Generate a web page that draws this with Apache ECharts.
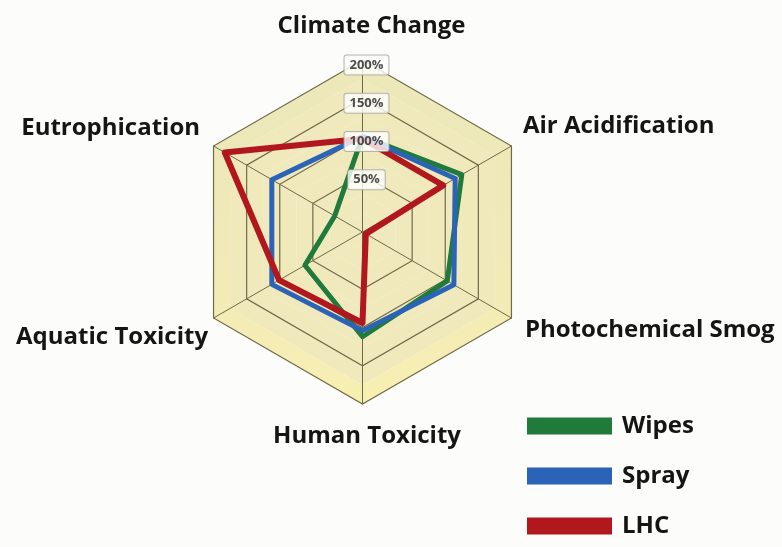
<!DOCTYPE html>
<html><head><meta charset="utf-8">
<script src="https://cdn.jsdelivr.net/npm/echarts@6/dist/echarts.min.js"></script>
<style>html,body{margin:0;padding:0;background:#fcfcfa;} #c{width:782px;height:547px;}</style>
</head><body><div id="c"></div>
<script>
// ---- data ----
const categories = ['Climate Change', 'Eutrophication', 'Aquatic Toxicity', 'Human Toxicity', 'Photochemical Smog', 'Air Acidification'];
const wipes = [100, 17, 62, 112, 103, 125];
const spray = [100, 112, 112, 104, 113, 115];
const lhc   = [97, 183, 101, 94, -20, 97];
const seriesNames = ['Wipes', 'Spray', 'LHC'];
const tickValues = [50, 100, 150, 200];
const tickLabels = ['50%', '100%', '150%', '200%'];
const axisMin = -25, axisMax = 200;

// ---- styles ----
const colors = ['#1f7a3b', '#2a63b8', '#b1181e'];
const FONT = 'Open Sans';
const NAME_SIZE = 24;
const namePads = [[0,0,18,18],[0,10,32,0],[34,2,0,0],[16,0,0,9],[20,0,0,10],[0,0,36,8]];
const rich = {};
namePads.forEach((p, i) => { rich['n' + i] = {padding: p, fontFamily: FONT, fontWeight: 'bold', fontSize: NAME_SIZE, color: '#151515'}; });
const gridColor = '#6f6a48';
const ringColors = [];
for (let i = 0; i < 10; i++) ringColors.push((i >= 3 && i % 2 === 1) ? gridColor : 'rgba(0,0,0,0)');
const innerFill = '#efe9bb';
const outerFill = new echarts.graphic.LinearGradient(0, 0, 0, 1, [
  {offset: 0, color: '#ece8ba'}, {offset: 0.5, color: '#f0e9b8'}, {offset: 1, color: '#f8efb2'}
]);
const areaColors = [innerFill, innerFill, innerFill, innerFill, innerFill, innerFill, innerFill, innerFill, outerFill, outerFill];

const chart = echarts.init(document.getElementById('c'));
chart.setOption({
  backgroundColor: '#fcfcfa',
  color: colors,
  legend: {
    orient: 'vertical', left: 527, top: 414, height: 133, padding: 0, itemWidth: 85, itemHeight: 17, itemGap: 26,
    icon: 'rect', data: seriesNames,
    textStyle: {fontFamily: FONT, fontWeight: 'bold', fontSize: NAME_SIZE, color: '#151515', padding: [0,0,0,5]}
  },
  radar: {
    center: [362.5, 232], radius: 172, startAngle: 90, splitNumber: 9, shape: 'polygon',
    nameGap: 4,
    indicator: categories.map(n => ({name: n, min: axisMin, max: axisMax})),
    axisName: {
      formatter: (name) => '{n' + categories.indexOf(name) + '|' + name + '}',
      rich: rich
    },
    axisLine: {lineStyle: {color: gridColor, width: 1}},
    splitLine: {lineStyle: {color: ringColors, width: 1.2}},
    splitArea: {areaStyle: {color: areaColors}}
  },
  polar: {center: [362.5, 232], radius: 172},
  radiusAxis: {min: axisMin, max: axisMax, show: false, splitLine: {show: false}},
  angleAxis: {type: 'value', min: 0, max: 360, startAngle: 90, show: false, splitLine: {show: false}},
  series: [
    {
      type: 'scatter', coordinateSystem: 'polar', symbolSize: 1, silent: true,
      itemStyle: {color: 'rgba(0,0,0,0)'},
      data: tickValues.map(v => [v, 0]),
      label: {
        show: true, position: 'inside', offset: [4, 5],
        formatter: p => tickLabels[p.dataIndex],
        backgroundColor: '#ffffff', borderColor: '#a8a8a0', borderWidth: 1, borderRadius: 2,
        padding: [3, 5], fontFamily: FONT, fontWeight: 'bold', fontSize: 13, color: '#222'
      }
    },
    {
      type: 'radar', symbol: 'none',
      data: [
        {name: seriesNames[0], value: wipes, lineStyle: {color: colors[0], width: 5, join: 'round'}, itemStyle: {color: colors[0]}},
        {name: seriesNames[1], value: spray, lineStyle: {color: colors[1], width: 5, join: 'round'}, itemStyle: {color: colors[1]}},
        {name: seriesNames[2], value: lhc,   lineStyle: {color: colors[2], width: 6, join: 'round'}, itemStyle: {color: colors[2]}}
      ]
    }
  ]
});
</script></body></html>
